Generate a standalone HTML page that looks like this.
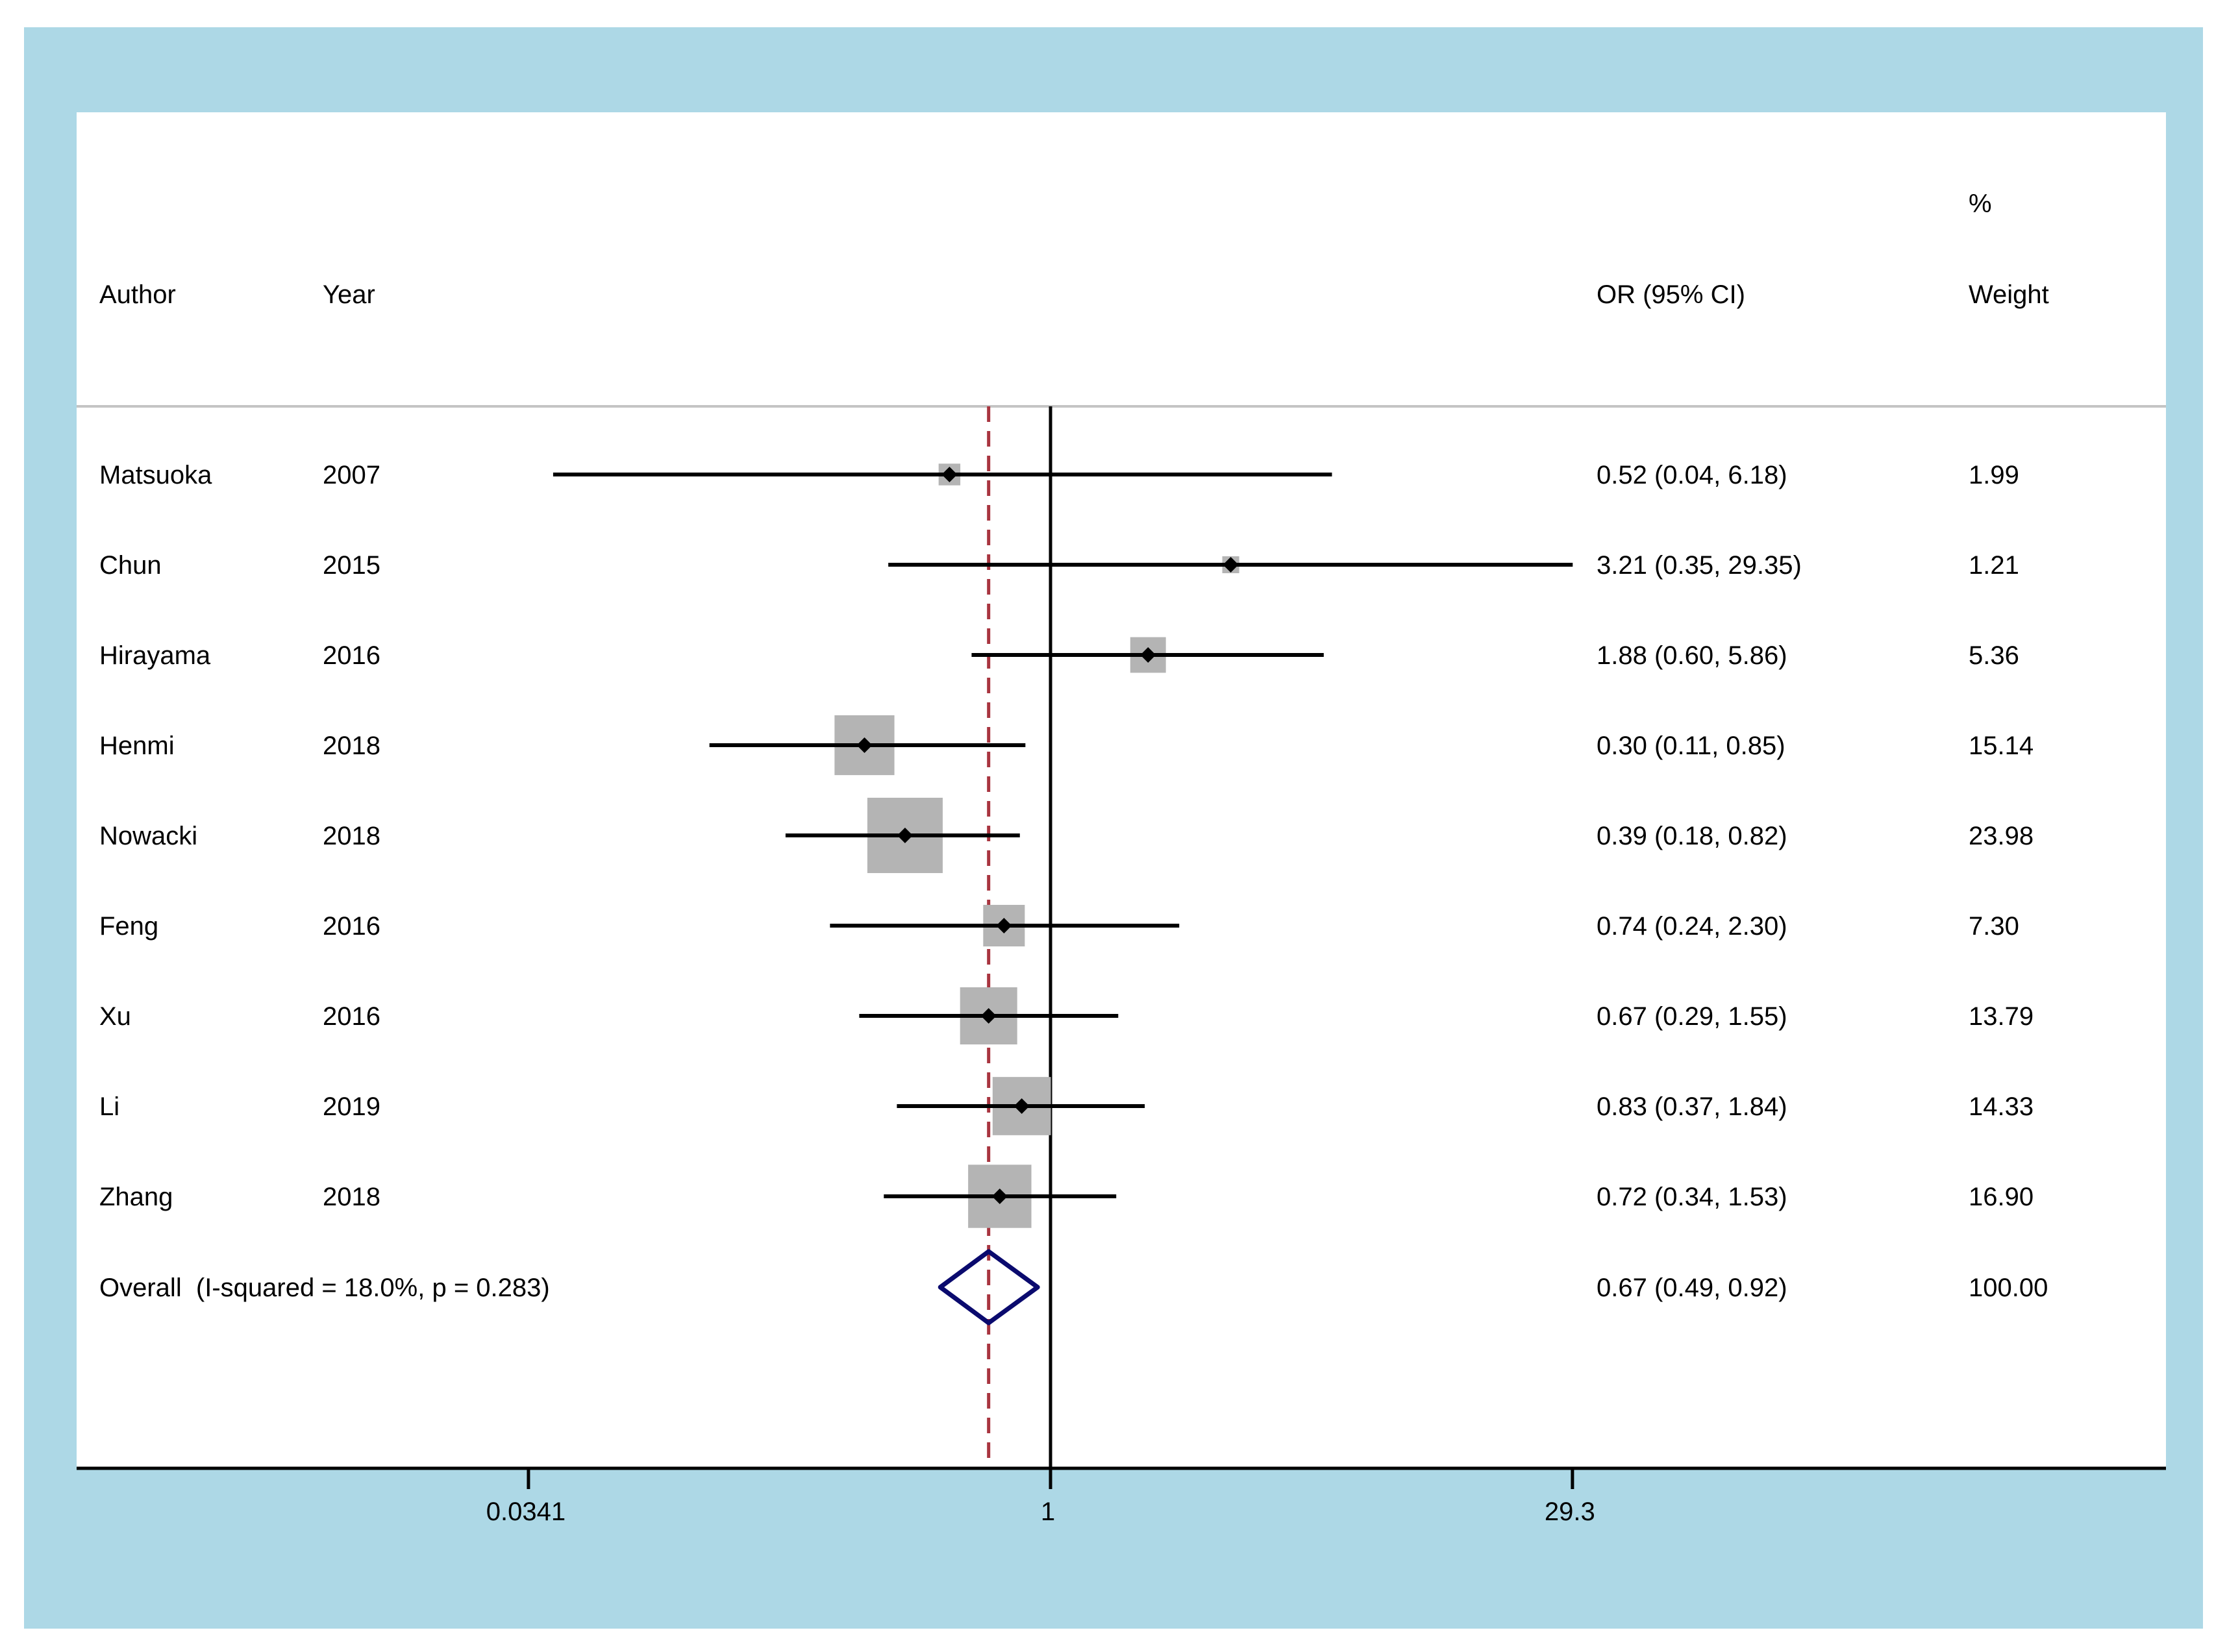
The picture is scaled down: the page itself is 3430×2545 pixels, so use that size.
<!DOCTYPE html>
<html><head><meta charset="utf-8"><style>
html,body{margin:0;padding:0;background:#fff}
svg{display:block}
text{font-family:"Liberation Sans",sans-serif;font-size:40px;fill:#000;white-space:pre}
</style></head><body>
<svg id="chart" width="3430" height="2545" viewBox="0 0 3430 2545">
<rect x="37" y="42" width="3356" height="2467" fill="#add8e6"/>
<rect x="118" y="173" width="3218" height="2089" fill="#fff"/>
<line x1="118" y1="626" x2="3336" y2="626" stroke="#c4c4c4" stroke-width="4"/>
<text x="3032" y="327">%</text>
<text x="153" y="467">Author</text>
<text x="497" y="467">Year</text>
<text x="2459" y="467">OR (95% CI)</text>
<text x="3032" y="467">Weight</text>
<g id="marks"></g>
<line x1="118" y1="2262" x2="3336" y2="2262" stroke="#000" stroke-width="5"/>
<g id="axis"></g>
</svg>
<script>
const authors=["Matsuoka","Chun","Hirayama","Henmi","Nowacki","Feng","Xu","Li","Zhang"];
const years=["2007","2015","2016","2018","2018","2016","2016","2019","2018"];
const ors=[0.52,3.21,1.88,0.30,0.39,0.74,0.67,0.83,0.72];
const lows=[0.04,0.35,0.60,0.11,0.18,0.24,0.29,0.37,0.34];
const highs=[6.18,29.35,5.86,0.85,0.82,2.30,1.55,1.84,1.53];
const weights=[1.99,1.21,5.36,15.14,23.98,7.30,13.79,14.33,16.90];
const overall=[0.67,0.49,0.92];
const overallLabel="Overall  (I-squared = 18.0%, p = 0.283)";
const overallWeight="100.00";
const ticks=[0.0341,1,29.3];
const tickLabels=["0.0341","1","29.3"];

const NS="http://www.w3.org/2000/svg";
const x0=1618,ppl=238;
function X(v){return x0+Math.log(v)*ppl;}
function rowY(i){return 731+i*139.0;}
function mk(tag,attrs,parent,txt){const e=document.createElementNS(NS,tag);for(const k in attrs)e.setAttribute(k,attrs[k]);if(txt!==undefined)e.textContent=txt;parent.appendChild(e);return e;}
const g=document.getElementById('marks');
const fmt=v=>v.toFixed(2);

let nl=mk('line',{x1:X(1),y1:626,x2:X(1),y2:2262,stroke:'#000','stroke-width':5},g);


let dl=mk('line',{x1:X(overall[0]),y1:626,x2:X(overall[0]),y2:2262,stroke:'#a8343f','stroke-width':5,'stroke-dasharray':'24 14'},g);



authors.forEach((a,i)=>{
  const y=rowY(i);
  const side=23.7*Math.sqrt(weights[i]);
  let b=mk('rect',{x:X(ors[i])-side/2,y:y-side/2,width:side,height:side,fill:'#b4b4b4'},g);
  
  
  let l=mk('line',{x1:X(lows[i]),y1:y,x2:X(highs[i]),y2:y,stroke:'#000','stroke-width':6},g);
  
  
  const cx=X(ors[i]),d=12;
  let p=mk('polygon',{points:`${cx},${y-d} ${cx+d},${y} ${cx},${y+d} ${cx-d},${y}`,fill:'#000'},g);
  
  
  let t1=mk('text',{x:153,y:y+14},g,a);
  
  
  let t2=mk('text',{x:497,y:y+14},g,years[i]);
  
  
  let t3=mk('text',{x:2459,y:y+14},g,`${fmt(ors[i])} (${fmt(lows[i])}, ${fmt(highs[i])})`);
  
  
  let t4=mk('text',{x:3032,y:y+14},g,fmt(weights[i]));
  
  
});
const oy=rowY(authors.length)+1;
let dm=mk('polygon',{points:`${X(overall[1])},${oy} ${X(overall[0])},${oy-55} ${X(overall[2])},${oy} ${X(overall[0])},${oy+55}`,fill:'none',stroke:'#0a0a6e','stroke-width':7,'stroke-linejoin':'round'},g);


let o1=mk('text',{x:153,y:oy+14},g,overallLabel);


let o2=mk('text',{x:2459,y:oy+14},g,`${fmt(overall[0])} (${fmt(overall[1])}, ${fmt(overall[2])})`);


let o3=mk('text',{x:3032,y:oy+14},g,overallWeight);



const ax=document.getElementById('axis');
ticks.forEach((t,i)=>{
  let tk=mk('line',{x1:X(t),y1:2262,x2:X(t),y2:2294,stroke:'#000','stroke-width':5},ax);
  
  
  let tl=mk('text',{x:X(t)-4,y:2342,'text-anchor':'middle'},ax,tickLabels[i]);
  
  
});
</script>
</body></html>
